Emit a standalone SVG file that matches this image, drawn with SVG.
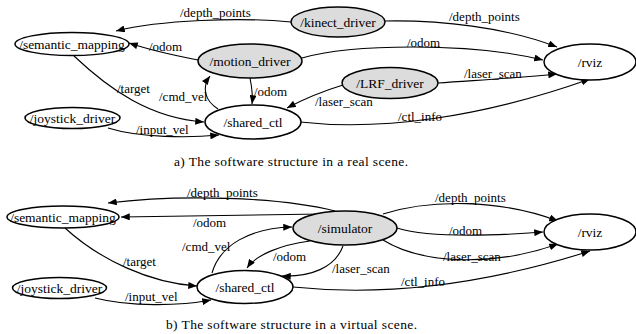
<svg xmlns="http://www.w3.org/2000/svg" width="636" height="334" viewBox="0 0 636 334" font-family="Liberation Serif, Times New Roman, serif">
  <style>
    .node ellipse { stroke: #000; stroke-width: 1.5; fill: #fff; }
    .node.drv ellipse { fill: #dcdcdc; }
    .node text { font-size: 13.5px; text-anchor: middle; fill: #000; }
    .edges path { fill: none; stroke: #000; stroke-width: 1.1; marker-end: url(#arrow); }
    .lbl { font-size: 13px; fill: #000; }
    .cap { font-size: 13.5px; fill: #000; }
  </style>
  <defs>
    <marker id="arrow" viewBox="0 0 10 8" refX="10" refY="4" markerWidth="9" markerHeight="7" markerUnits="userSpaceOnUse" orient="auto">
      <path d="M0,0 L10,4 L0,8 Z" fill="#000"/>
    </marker>
  </defs>
  <rect width="636" height="334" fill="#fff"/>

  <!-- a) real scene -->
  <g id="edges-real" class="edges">
    <path d="M291,22 C240,17 160,20 116,31"/>
    <path d="M385,21 C440,20 505,27 557,47"/>
    <path d="M198,60 C172,55 150,50 129,43"/>
    <path d="M302,58 C350,44 470,42 543,60"/>
    <path d="M250,78 C252,88 253,96 252,104"/>
    <path d="M218,109 C204,100 202,87 210,76"/>
    <path d="M74,56 C110,90 150,118 204,122"/>
    <path d="M108,128 C140,138 190,138 219,135"/>
    <path d="M343,85 C320,92 302,100 287,108"/>
    <path d="M438,83 C480,80 520,78 557,74"/>
    <path d="M300,122 C380,131 480,118 590,79"/>
  </g>
  <g id="labels-real" font-family="Liberation Serif, Times New Roman, serif">
    <text class="lbl" x="180" y="17">/depth_points</text>
    <text class="lbl" x="449" y="21">/depth_points</text>
    <text class="lbl" x="149" y="51">/odom</text>
    <text class="lbl" x="407" y="47">/odom</text>
    <text class="lbl" x="254" y="96">/odom</text>
    <text class="lbl" x="159" y="101">/cmd_vel</text>
    <text class="lbl" x="117" y="93">/target</text>
    <text class="lbl" x="136" y="134">/input_vel</text>
    <text class="lbl" x="315" y="106">/laser_scan</text>
    <text class="lbl" x="464" y="78">/laser_scan</text>
    <text class="lbl" x="398" y="121">/ctl_info</text>
  </g>
  <g id="semantic_mapping_a" class="node" font-family="Liberation Serif, Times New Roman, serif"><ellipse cx="72" cy="44" rx="57" ry="11.5"/><text x="72" y="48.5">/semantic_mapping</text></g>
  <g id="kinect_driver" class="node drv" font-family="Liberation Serif, Times New Roman, serif"><ellipse cx="338" cy="22" rx="47" ry="15"/><text x="338" y="26.5">/kinect_driver</text></g>
  <g id="motion_driver" class="node drv" font-family="Liberation Serif, Times New Roman, serif"><ellipse cx="250" cy="61" rx="52" ry="17"/><text x="250" y="65.5">/motion_driver</text></g>
  <g id="lrf_driver" class="node drv" font-family="Liberation Serif, Times New Roman, serif"><ellipse cx="390" cy="83" rx="48" ry="15.5"/><text x="390" y="87.5">/LRF_driver</text></g>
  <g id="rviz_a" class="node" font-family="Liberation Serif, Times New Roman, serif"><ellipse cx="590" cy="62" rx="46" ry="18"/><text x="590" y="66.5">/rviz</text></g>
  <g id="shared_ctl_a" class="node" font-family="Liberation Serif, Times New Roman, serif"><ellipse cx="253" cy="122" rx="48" ry="17"/><text x="253" y="126.5">/shared_ctl</text></g>
  <g id="joystick_driver_a" class="node" font-family="Liberation Serif, Times New Roman, serif"><ellipse cx="72.5" cy="118" rx="47.5" ry="10.5"/><text x="72.5" y="122.5">/joystick_driver</text></g>
  <text class="cap" x="174" y="166" textLength="234" font-family="Liberation Serif, Times New Roman, serif">a) The software structure in a real scene.</text>

  <!-- b) virtual scene -->
  <g id="edges-virtual" class="edges">
    <path d="M335,211 C280,197 180,194 108,203"/>
    <path d="M322,214 L121,217"/>
    <path d="M212,273 C220,245 250,228 292,227"/>
    <path d="M310,241 C280,245 256,255 247,268"/>
    <path d="M343,246 C335,268 310,277 282,276"/>
    <path d="M65,228 C100,260 150,283 197,286"/>
    <path d="M95,298 C130,307 180,306 211,300"/>
    <path d="M293,287 C380,296 480,286 590,251"/>
    <path d="M383,214 C430,199 500,199 558,221"/>
    <path d="M397,228 C430,238 490,236 543,232"/>
    <path d="M383,240 C420,263 490,268 558,244"/>
  </g>
  <g id="labels-virtual" font-family="Liberation Serif, Times New Roman, serif">
    <text class="lbl" x="187" y="197">/depth_points</text>
    <text class="lbl" x="193" y="227">/odom</text>
    <text class="lbl" x="182" y="251">/cmd_vel</text>
    <text class="lbl" x="123" y="266">/target</text>
    <text class="lbl" x="125" y="301">/input_vel</text>
    <text class="lbl" x="273" y="261">/odom</text>
    <text class="lbl" x="332" y="273">/laser_scan</text>
    <text class="lbl" x="435" y="202">/depth_points</text>
    <text class="lbl" x="449" y="235">/odom</text>
    <text class="lbl" x="443" y="261">/laser_scan</text>
    <text class="lbl" x="401" y="286">/ctl_info</text>
  </g>
  <g id="semantic_mapping_b" class="node" font-family="Liberation Serif, Times New Roman, serif"><ellipse cx="63" cy="217" rx="56" ry="11"/><text x="63" y="221.5">/semantic_mapping</text></g>
  <g id="simulator" class="node drv" font-family="Liberation Serif, Times New Roman, serif"><ellipse cx="345" cy="228" rx="52" ry="17"/><text x="345" y="232.5">/simulator</text></g>
  <g id="rviz_b" class="node" font-family="Liberation Serif, Times New Roman, serif"><ellipse cx="590" cy="232" rx="46" ry="18"/><text x="590" y="236.5">/rviz</text></g>
  <g id="shared_ctl_b" class="node" font-family="Liberation Serif, Times New Roman, serif"><ellipse cx="245" cy="287" rx="48" ry="16.5"/><text x="245" y="291.5">/shared_ctl</text></g>
  <g id="joystick_driver_b" class="node" font-family="Liberation Serif, Times New Roman, serif"><ellipse cx="59.5" cy="288" rx="47" ry="10.5"/><text x="59.5" y="292.5">/joystick_driver</text></g>
  <text class="cap" x="166" y="329" textLength="251" font-family="Liberation Serif, Times New Roman, serif">b) The software structure in a virtual scene.</text>
</svg>
